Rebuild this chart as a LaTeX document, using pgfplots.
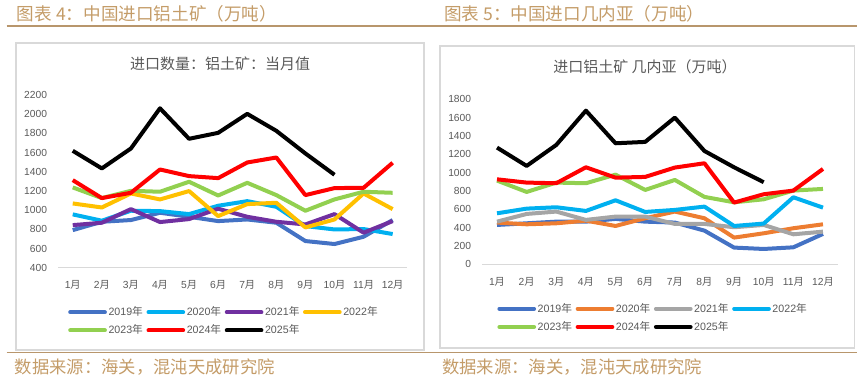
\documentclass[border=0pt]{standalone}
\usepackage{fontspec}
\setmainfont{Liberation Sans}
\newfontfamily\cjk{Noto Sans CJK SC}
\usepackage{pgfplots}
\pgfplotsset{compat=1.18}
\definecolor{tan}{RGB}{196,156,104}
\definecolor{tanline}{RGB}{184,150,108}
\definecolor{boxgray}{RGB}{217,217,217}
\definecolor{txtgray}{RGB}{89,89,89}
\definecolor{c19}{RGB}{68,114,196}
\definecolor{c20}{RGB}{0,176,240}
\definecolor{c21}{RGB}{112,48,160}
\definecolor{c22}{RGB}{255,192,0}
\definecolor{c23}{RGB}{146,208,80}
\definecolor{c24}{RGB}{255,0,0}
\definecolor{corange}{RGB}{237,125,49}
\definecolor{cgray}{RGB}{165,165,165}
\pgfplotsset{
  common/.style={
    scale only axis,
    xmin=0.5, xmax=12.5,
    axis x line=bottom, axis y line=left,
    axis line style={-},
    x axis line style={draw=boxgray, line width=0.8pt},
    y axis line style={draw=none},
    xtick style={draw=none}, ytick style={draw=none},
    xtick={1,...,12},
    xticklabels={{1{\cjk 月}},{2{\cjk 月}},{3{\cjk 月}},{4{\cjk 月}},{5{\cjk 月}},{6{\cjk 月}},{7{\cjk 月}},{8{\cjk 月}},{9{\cjk 月}},{10{\cjk 月}},{11{\cjk 月}},{12{\cjk 月}}},
    /pgf/number format/assume math mode=true,
    /pgf/number format/1000 sep={},
    tick label style={font=\fontsize{7.7}{9}\selectfont, text=txtgray},
    xticklabel style={inner sep=0pt, yshift=-7.5pt},
    yticklabel style={inner sep=0pt, xshift=-6pt},
    every axis plot/.append style={line width=3pt, line join=round, no markers},
    legend columns=4,
    legend cell align=left,
    legend image code/.code={\draw[#1, line width=3pt, line cap=round] (0pt,0pt) -- (26pt,0pt);},
    legend style={draw=none, fill=none, anchor=north west, inner sep=0pt,
      font=\fontsize{8}{9}\selectfont, text=txtgray,
      row sep=3pt,
      nodes={inner sep=1.2pt},
      /tikz/every even column/.append style={column sep=1.5pt}},
  }
}
\begin{document}
\begin{tikzpicture}
\useasboundingbox (0pt,0pt) rectangle (648pt,-285pt);
% headings
\node[anchor=west, text=tan, font=\cjk\fontsize{13.2}{15}\selectfont, inner sep=0pt] at (12.5pt,-10.5pt) {图表 4：中国进口铝土矿（万吨）};
\node[anchor=west, text=tan, font=\cjk\fontsize{13.2}{15}\selectfont, inner sep=0pt] at (333pt,-10.5pt) {图表 5：中国进口几内亚（万吨）};
\draw[tanline, line width=1pt] (5pt,-19.5pt) -- (643pt,-19.5pt);
\draw[tanline, line width=1pt] (5pt,-264.5pt) -- (643pt,-264.5pt);
\node[anchor=west, text=tan, font=\cjk\fontsize{13}{15}\selectfont, inner sep=0pt] at (11pt,-275pt) {数据来源：海关，混沌天成研究院};
\node[anchor=west, text=tan, font=\cjk\fontsize{13}{15}\selectfont, inner sep=0pt] at (331.5pt,-275pt) {数据来源：海关，混沌天成研究院};
% boxes
\draw[boxgray, line width=0.8pt] (12pt,-32.25pt) rectangle (318pt,-262.5pt);
\draw[boxgray, line width=0.8pt] (330pt,-34.5pt) rectangle (641pt,-261pt);
% titles
\node[text=txtgray, font=\cjk\fontsize{11.25}{13}\selectfont] at (165pt,-48pt) {进口数量：铝土矿：当月值};
\node[text=txtgray, font=\cjk\fontsize{11.25}{13}\selectfont] at (483.75pt,-50.25pt) {进口铝土矿 几内亚（万吨）};

\begin{axis}[common,
  at={(43.65pt,-200.78pt)}, anchor=south west,
  width=261.75pt, height=129.5pt,
  ymin=400, ymax=2200, ytick={400,600,...,2200},
  legend style={at={(axis description cs:0.028,-0.215)}},
]
\addplot[c19] coordinates {(1,792)(2,879)(3,897)(4,973)(5,931)(6,886)(7,903)(8,869)(9,678)(10,647)(11,723)(12,897)};
\addlegendentry{2019{\cjk 年}}
\addplot[c20] coordinates {(1,956)(2,890)(3,994)(4,990)(5,959)(6,1046)(7,1094)(8,1035)(9,834)(10,799)(11,803)(12,751)};
\addlegendentry{2020{\cjk 年}}
\addplot[c21] coordinates {(1,844)(2,869)(3,1011)(4,876)(5,907)(6,1015)(7,931)(8,879)(9,851)(10,959)(11,765)(12,886)};
\addlegendentry{2021{\cjk 年}}
\addplot[c22] coordinates {(1,1070)(2,1028)(3,1174)(4,1112)(5,1199)(6,938)(7,1063)(8,1077)(9,820)(10,903)(11,1174)(12,1011)};
\addlegendentry{2022{\cjk 年}}
\addplot[c23] coordinates {(1,1237)(2,1126)(3,1202)(4,1192)(5,1296)(6,1153)(7,1285)(8,1157)(9,994)(10,1112)(11,1192)(12,1181)};
\addlegendentry{2023{\cjk 年}}
\addplot[c24] coordinates {(1,1313)(2,1126)(3,1181)(4,1424)(5,1355)(6,1334)(7,1497)(8,1549)(9,1157)(10,1230)(11,1233)(12,1494)};
\addlegendentry{2024{\cjk 年}}
\addplot[black] coordinates {(1,1619)(2,1435)(3,1643)(4,2062)(5,1744)(6,1806)(7,2004)(8,1827)(9,1591)(10,1369)};
\addlegendentry{2025{\cjk 年}}
\end{axis}

\begin{axis}[common,
  at={(361.65pt,-198.2pt)}, anchor=south west,
  width=266.7pt, height=123.75pt,
  ymin=0, ymax=1800, ytick={0,200,...,1800},
  legend style={at={(axis description cs:0.042,-0.225)}},
]
\addplot[c19] coordinates {(1,429)(2,447)(3,465)(4,465)(5,495)(6,465)(7,455)(8,367)(9,182)(10,167)(11,185)(12,331)};
\addlegendentry{2019{\cjk 年}}
\addplot[corange] coordinates {(1,455)(2,436)(3,447)(4,476)(5,418)(6,502)(7,575)(8,502)(9,291)(10,338)(11,393)(12,436)};
\addlegendentry{2020{\cjk 年}}
\addplot[cgray] coordinates {(1,465)(2,549)(3,575)(4,484)(5,520)(6,520)(7,440)(8,440)(9,404)(10,429)(11,327)(12,356)};
\addlegendentry{2021{\cjk 年}}
\addplot[c20] coordinates {(1,556)(2,607)(3,622)(4,582)(5,698)(6,571)(7,593)(8,629)(9,418)(10,444)(11,731)(12,618)};
\addlegendentry{2022{\cjk 年}}
\addplot[c23] coordinates {(1,913)(2,789)(3,891)(4,884)(5,978)(6,811)(7,920)(8,735)(9,676)(10,709)(11,804)(12,822)};
\addlegendentry{2023{\cjk 年}}
\addplot[c24] coordinates {(1,927)(2,891)(3,884)(4,1058)(5,945)(6,953)(7,1055)(8,1102)(9,673)(10,764)(11,804)(12,1040)};
\addlegendentry{2024{\cjk 年}}
\addplot[black] coordinates {(1,1273)(2,1073)(3,1302)(4,1676)(5,1320)(6,1335)(7,1600)(8,1236)(9,1058)(10,895)};
\addlegendentry{2025{\cjk 年}}
\end{axis}
\end{tikzpicture}
\end{document}
